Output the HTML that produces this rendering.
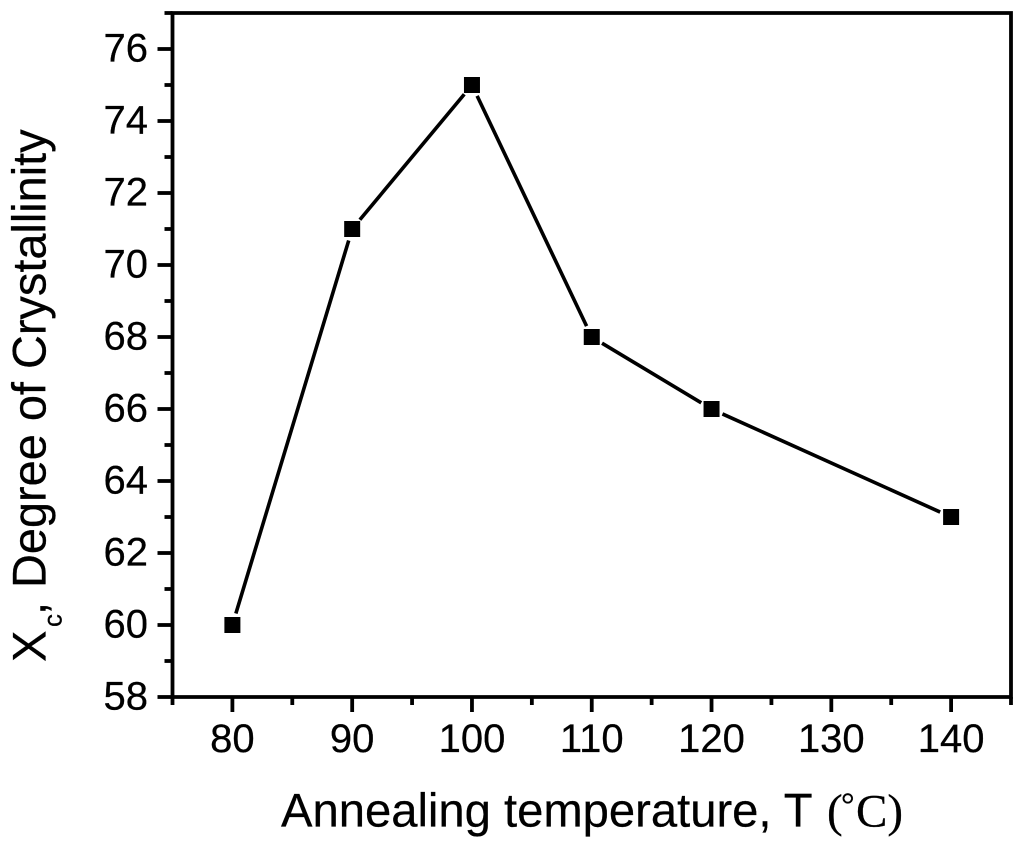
<!DOCTYPE html>
<html lang="en">
<head>
<meta charset="utf-8">
<title>Degree of Crystallinity vs Annealing Temperature</title>
<style>
html,body{margin:0;padding:0;background:#fff;width:1024px;height:845px;overflow:hidden}
svg{display:block;font-family:"Liberation Sans",sans-serif;fill:#000}
text{stroke:#000;stroke-width:.25}
</style>
</head>
<body>
<svg id="chart" xmlns="http://www.w3.org/2000/svg" width="1024" height="845" viewBox="0 0 1024 845">
<rect x="0" y="0" width="1024" height="845" fill="#fff"/>
<g id="plot"></g>
<g id="xticks"></g>
<g id="yticks"></g>
<text x="281" y="826.5" font-size="47.2">Annealing temperature, T <tspan x="827" font-family="'Liberation Serif',serif" font-size="47">(</tspan><tspan x="841" y="816" font-family="'Liberation Serif',serif" font-size="34">°</tspan><tspan x="856" y="826.5" font-family="'Liberation Serif',serif" font-size="47">C)</tspan></text>
<text transform="translate(45.5,662) rotate(-90)" font-size="47.2">X<tspan x="35" y="16" font-size="26">c</tspan><tspan x="47" y="0">,</tspan><tspan x="74" y="0" font-size="46.9">Degree of Crystallinity</tspan></text>
</svg>
<script>
const temperatures = [80, 90, 100, 110, 120, 140];
const crystallinity = [60, 71, 75, 68, 66, 63];
const xTickLabels = [80, 90, 100, 110, 120, 130, 140];
const yTickLabels = [58, 60, 62, 64, 66, 68, 70, 72, 74, 76];
const xMinorTicks = [75, 85, 95, 105, 115, 125, 135, 145];
const yMinorTicks = [59, 61, 63, 65, 67, 69, 71, 73, 75, 77];

const xDomain = [75, 145];
const yDomain = [58, 77];
const plotLeft = 172.5, plotRight = 1011, plotBottom = 697, plotTop = 13;
const NS = 'http://www.w3.org/2000/svg';

function xScale(v) { return plotLeft + (v - xDomain[0]) * (plotRight - plotLeft) / (xDomain[1] - xDomain[0]); }
function yScale(v) { return plotBottom - (v - yDomain[0]) * (plotBottom - plotTop) / (yDomain[1] - yDomain[0]); }

function make(tag, attrs, parent) {
  const el = document.createElementNS(NS, tag);
  for (const k in attrs) el.setAttribute(k, attrs[k]);
  parent.appendChild(el);
  return el;
}

const plotGroup = document.getElementById('plot');
const xGroup = document.getElementById('xticks');
const yGroup = document.getElementById('yticks');
const strokeStyle = { stroke: '#000', 'stroke-width': 3.8, fill: 'none' };

const frame = make('path', Object.assign({ d: `M${plotLeft} ${plotTop}H${plotRight}V${plotBottom}H${plotLeft}Z` }, strokeStyle), plotGroup);



xTickLabels.forEach(function (v) {
  const t = make('line', Object.assign({ x1: xScale(v), x2: xScale(v), y1: plotBottom, y2: plotBottom + 15 }, strokeStyle), xGroup);
  
  
  const l = make('text', { x: xScale(v), y: 752, 'font-size': 40, 'text-anchor': 'middle' }, xGroup);
  l.textContent = v;
  
  
});
xMinorTicks.forEach(function (v) {
  const t = make('line', Object.assign({ x1: xScale(v), x2: xScale(v), y1: plotBottom, y2: plotBottom + 8 }, strokeStyle), xGroup);
  
  
});
yTickLabels.forEach(function (v) {
  const t = make('line', Object.assign({ x1: plotLeft, x2: plotLeft - 15, y1: yScale(v), y2: yScale(v) }, strokeStyle), yGroup);
  
  
  const l = make('text', { x: 148, y: yScale(v) + 12.5, 'font-size': 40, 'text-anchor': 'end' }, yGroup);
  l.textContent = v;
  
  
});
yMinorTicks.forEach(function (v) {
  const t = make('line', Object.assign({ x1: plotLeft, x2: plotLeft - 8, y1: yScale(v), y2: yScale(v) }, strokeStyle), yGroup);
  
  
});

const gap = 12;
for (let i = 0; i < temperatures.length - 1; i++) {
  const x1 = xScale(temperatures[i]), y1 = yScale(crystallinity[i]);
  const x2 = xScale(temperatures[i + 1]), y2 = yScale(crystallinity[i + 1]);
  const len = Math.hypot(x2 - x1, y2 - y1);
  const ux = (x2 - x1) / len, uy = (y2 - y1) / len;
  const seg = make('line', {
    x1: x1 + ux * gap, y1: y1 + uy * gap,
    x2: x2 - ux * gap, y2: y2 - uy * gap,
    stroke: '#000', 'stroke-width': 3.6
  }, plotGroup);
  
  
}
temperatures.forEach(function (t, i) {
  const size = 16;
  const m = make('rect', {
    x: xScale(t) - size / 2, y: yScale(crystallinity[i]) - size / 2,
    width: size, height: size, fill: '#000'
  }, plotGroup);
  
  
});
</script>
</body>
</html>
